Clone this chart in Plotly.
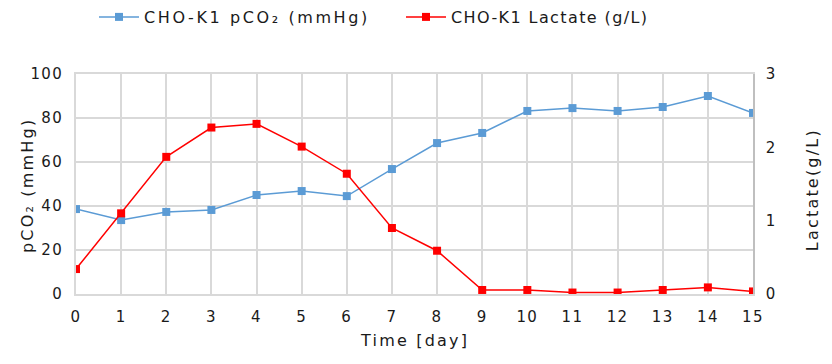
import plotly.graph_objects as go

days = list(range(16))
pco2 = [38.6, 33.6, 37.3, 38.2, 45.0, 46.8, 44.5, 56.8, 68.6, 73.2, 83.2, 84.5, 83.2, 85.0, 90.0, 82.3]
lactate = [0.34, 1.10, 1.87, 2.27, 2.32, 2.01, 1.64, 0.90, 0.59, 0.055, 0.055, 0.02, 0.02, 0.055, 0.09, 0.035]
x_title = "Time [day]"
y_title = "pCO₂ (mmHg)"
y2_title = "Lactate(g/L)"

FONT = "DejaVu Sans"
fig = go.Figure()
fig.add_trace(go.Scatter(x=days, y=pco2, name="CHO-K1 pCO₂ (mmHg)", mode="lines+markers",
                         line=dict(color="#5b9bd5", width=1.5),
                         marker=dict(symbol="square", size=8, color="#5b9bd5"),
                         legend="legend"))
fig.add_trace(go.Scatter(x=days, y=lactate, name="CHO-K1 Lactate (g/L)", mode="lines+markers",
                         yaxis="y2",
                         line=dict(color="#ff0000", width=1.5),
                         marker=dict(symbol="square", size=8, color="#ff0000"),
                         legend="legend2"))

leg_common = dict(orientation="h", yref="container", y=1.0, yanchor="top",
                  xref="container", xanchor="left", font=dict(size=16), itemwidth=40,
                  bgcolor="rgba(0,0,0,0)", borderwidth=0)

fig.update_layout(
    width=832, height=364,
    margin=dict(l=76, r=79, t=74, b=70, autoexpand=False),
    paper_bgcolor="white", plot_bgcolor="white",
    font=dict(family=FONT, size=15, color="#1a1a1a"),
    showlegend=True,
    legend=dict(x=94 / 832, **leg_common),
    legend2=dict(x=401 / 832, **leg_common),
    xaxis=dict(range=[0, 15], tickmode="array", tickvals=days, ticktext=[str(d) for d in days],
               showgrid=True, gridcolor="#d9d9d9", gridwidth=1.5,
               showline=True, linecolor="#d9d9d9", linewidth=1.5, mirror=True,
               zeroline=False, ticks="", automargin=False, ticklabelstandoff=8),
    yaxis=dict(range=[0, 100], tickvals=[0, 20, 40, 60, 80, 100],
               showgrid=True, gridcolor="#d9d9d9", gridwidth=1.5,
               showline=True, linecolor="#d9d9d9", linewidth=1.5,
               zeroline=False, ticks="", automargin=False, ticklabelstandoff=8),
    yaxis2=dict(range=[0, 3], tickvals=[0, 1, 2, 3], overlaying="y", side="right",
                showgrid=False, showline=True, linecolor="#bfbfbf", linewidth=1.5,
                zeroline=False, ticks="", automargin=False, ticklabelstandoff=8),
    annotations=[
        dict(text=x_title, xref="paper", yref="paper", x=0.5, y=0, yshift=-46,
             showarrow=False, xanchor="center", yanchor="middle", font=dict(size=16)),
        dict(text=y_title, xref="paper", yref="paper", x=0, y=0.5, xshift=-49, yshift=-2,
             showarrow=False, textangle=-90, xanchor="center", yanchor="middle", font=dict(size=16)),
        dict(text=y2_title, xref="paper", yref="paper", x=1, y=0.5, xshift=59, yshift=-6,
             showarrow=False, textangle=-90, xanchor="center", yanchor="middle", font=dict(size=16)),
    ],
)

post = """
document.body.style.margin = '0';
var gd = document.getElementById('{plot_id}');
function styleText(){
  gd.querySelectorAll('text').forEach(function(t){ t.style.letterSpacing = '1.4px'; });
  gd.querySelectorAll('.annotation-text').forEach(function(t){ t.style.letterSpacing = '2.2px'; });
  gd.querySelectorAll('.legendtext').forEach(function(t){
    t.style.letterSpacing = (t.textContent.indexOf('Lactate') >= 0) ? '2.7px' : '2.6px';
  });
  gd.querySelectorAll('.infolayer [clip-path]').forEach(function(e){ e.removeAttribute('clip-path'); });
}
styleText();
gd.on('plotly_afterplot', styleText);
setTimeout(styleText, 30);
setTimeout(styleText, 200);
"""
fig.write_html("out.html", post_script=post, config={"displayModeBar": False})
